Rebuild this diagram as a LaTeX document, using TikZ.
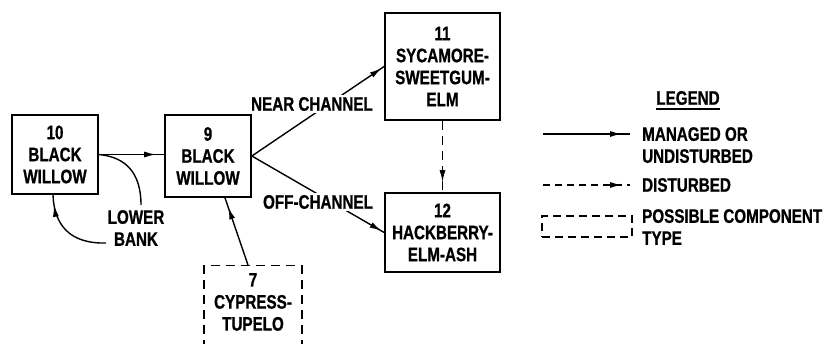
\documentclass[tikz,border=0pt]{standalone}
\usepackage{fontspec}
\setmainfont[FakeStretch=0.78, BoldFeatures={FakeStretch=0.78, FakeBold=0.8}]{Liberation Sans}
\usetikzlibrary{arrows.meta,decorations.markings}
\tikzset{
  txt/.style={inner sep=0pt, align=center, font=\bfseries\fontsize{19.5}{22}\selectfont},
  box/.style={txt, draw, line width=1.7pt},
  dbox/.style={draw, line width=1.5pt, dash pattern=on 9pt off 6pt, inner sep=0pt},
  conn/.style={line width=1.4pt},
  dconn/.style={line width=1.4pt, dash pattern=on 9pt off 6pt},
  arr/.style={postaction={decorate}, decoration={markings,
     mark=at position #1 with {\arrow{Latex[length=12pt,width=6pt]}}}},
  lbl/.style={txt, fill=white, inner sep=2pt}
}
\begin{document}
\begin{tikzpicture}[x=1pt,y=-1pt]
\useasboundingbox (0,0) rectangle (833,344);

% boxes
\node[box, minimum width=86pt, minimum height=79pt] (b10) at (55,154.5) {10\\BLACK\\WILLOW};
\node[box, minimum width=86pt, minimum height=82pt] (b9) at (208,156) {9\\BLACK\\WILLOW};
\node[box, minimum width=115pt, minimum height=107pt] (b11) at (442.5,66.5) {11\\SYCAMORE-\\SWEETGUM-\\ELM};
\node[box, minimum width=115pt, minimum height=79pt] (b12) at (442.5,232.5) {12\\HACKBERRY-\\ELM-ASH};
\node[dbox, minimum width=98pt, minimum height=90pt, anchor=north] (b7) at (253,265) {};
\node[txt] (t7) at (253,302) {7\\CYPRESS-\\TUPELO};

% connectors
\draw[conn, arr=-8pt] (b10.east) -- (b10.east -| b9.west);
\coordinate (lbA) at (141,205);
\coordinate (lbB) at (106,243);
\draw[conn] (b10.east) .. controls (125,157) and (141,172) .. (lbA);
\draw[conn, arr=-10pt] (lbB) .. controls (70,244) and (54,225) .. ([xshift=-2pt]b10.south);
\node[txt] (lb) at (136,228) {LOWER\\BANK};

\draw[conn, arr=-10pt] ([xshift=-5pt]b7.north) -- ([xshift=17pt]b9.south);

\draw[conn, arr=-3pt] (b9.east) -- (b11.west);
\draw[conn, arr=-3pt] (b9.east) -- (b12.west);
\node[lbl] (near) at (312,104) {NEAR CHANNEL};
\node[lbl] (off) at (318,202) {OFF-CHANNEL};

\draw[dconn, arr=-10pt] (b11.south) -- (b12.north);

% legend
\node[txt] (lg) at (688,98) {LEGEND};
\draw[line width=1.4pt] ([yshift=-4pt]lg.south west) -- ([yshift=-4pt]lg.south east);

\coordinate (l1a) at (543,134);
\coordinate (l1b) at (630,134);
\draw[conn, arr=-8pt] (l1a) -- (l1b);
\node[txt, align=left, anchor=north west] (lt1) at (642,127) {MANAGED OR\\UNDISTURBED};

\coordinate (l2a) at (543,185);
\coordinate (l2b) at (630,185);
\draw[line width=1.4pt, dash pattern=on 7pt off 5pt, arr=-8pt] (l2a) -- (l2b);
\node[txt, anchor=west] (lt2) at (642,185) {DISTURBED};

\node[dbox, dash pattern=on 8pt off 5pt, minimum width=90pt, minimum height=21pt] (lgbox) at (587,226.5) {};
\node[txt, align=left, anchor=north west] (lt3) at (642,209) {POSSIBLE COMPONENT\\TYPE};
\end{tikzpicture}
\end{document}
